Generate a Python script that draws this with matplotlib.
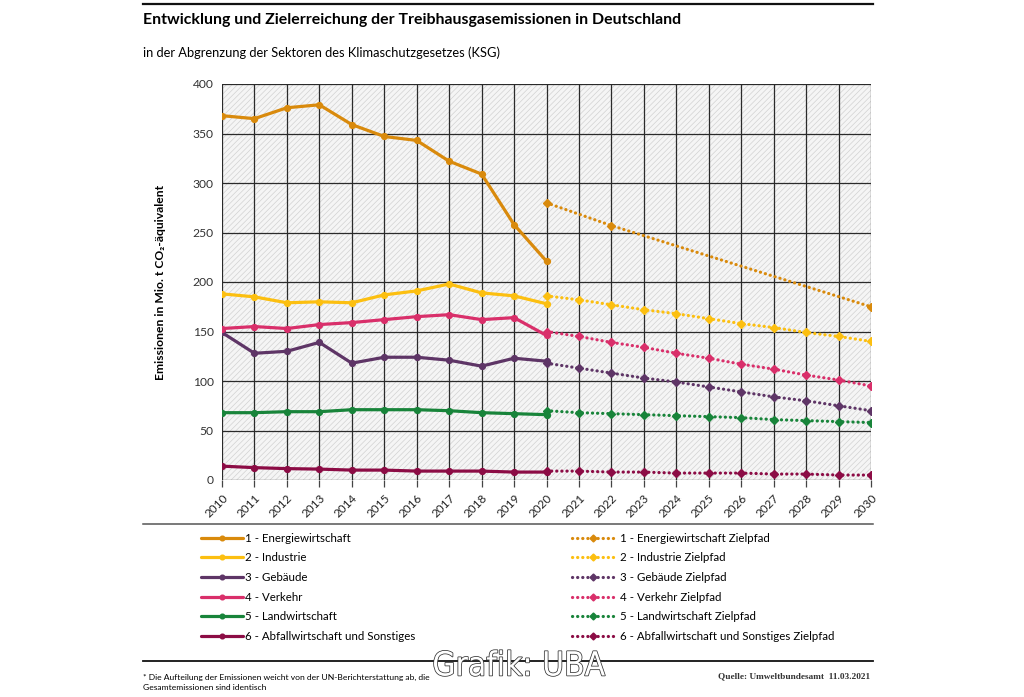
import matplotlib
matplotlib.use('Agg')
import matplotlib.pyplot as plt
import matplotlib.patheffects as pe
from matplotlib.patches import Rectangle
from matplotlib.lines import Line2D

plt.rcParams['font.family'] = ['Lato', 'DejaVu Sans']
plt.rcParams['hatch.linewidth'] = 0.5

# data (Mio. t CO2-Aequivalent)
jahre_ist = list(range(2010, 2021))
jahre_ziel = list(range(2020, 2031))
energie_ziel_jahre = [2020, 2022, 2030]

energie_ist = [368, 365, 376, 379, 359, 347, 343, 322, 309, 258, 221]
industrie_ist = [188, 185, 179, 180, 179, 187, 191, 198, 189, 186, 178]
gebaeude_ist = [149, 128, 130, 139, 118, 124, 124, 121, 115, 123, 120]
verkehr_ist = [153, 155, 153, 157, 159, 162, 165, 167, 162, 164, 146]
landwirtschaft_ist = [68, 68, 69, 69, 71, 71, 71, 70, 68, 67, 66]
abfall_ist = [14, 12.5, 11.5, 11, 10, 10, 9, 9, 9, 8, 8]

energie_ziel = [280, 257, 175]
industrie_ziel = [186, 182, 177, 172, 168, 163, 158, 154, 149, 145, 140]
gebaeude_ziel = [118, 113, 108, 103, 99, 94, 89, 84, 80, 75, 70]
verkehr_ziel = [150, 145, 139, 134, 128, 123, 117, 112, 106, 101, 95]
landwirtschaft_ziel = [70, 68, 67, 66, 65, 64, 63, 61, 60, 59, 58]
abfall_ziel = [9, 9, 8, 8, 7, 7, 7, 6, 6, 5, 5]

sektoren = ['1 - Energiewirtschaft', '2 - Industrie', '3 - Gebäude',
            '4 - Verkehr', '5 - Landwirtschaft', '6 - Abfallwirtschaft und Sonstiges']
farben = ['#d98a0c', '#fcbf10', '#5e3566', '#d92f6a', '#18843a', '#8c0c45']

ist = [energie_ist, industrie_ist, gebaeude_ist, verkehr_ist, landwirtschaft_ist, abfall_ist]
ziel = [energie_ziel, industrie_ziel, gebaeude_ziel, verkehr_ziel, landwirtschaft_ziel, abfall_ziel]
ziel_x = [energie_ziel_jahre] + [jahre_ziel] * 5

fig = plt.figure(figsize=(10.24, 6.97), dpi=100)
ax = fig.add_axes([222/1024, 1-480/697, (871-222)/1024, (480-84)/697])

# hatched background
bg = Rectangle((0, 0), 1, 1, transform=ax.transAxes, facecolor='#f5f5f5',
               edgecolor='#d2d2d2', hatch='//////', lw=0, zorder=0)
ax.add_patch(bg)

handles_ist, handles_ziel = [], []
for i in range(6):
    h1, = ax.plot(jahre_ist, ist[i], color=farben[i], lw=2.3, marker='o', ms=4.2,
                  solid_capstyle='round', zorder=4)
    h2, = ax.plot(ziel_x[i], ziel[i], color=farben[i], lw=2.3, ls=(0, (0.05, 1.55)),
                  dash_capstyle='round', marker='D', ms=4.4, zorder=3)
    handles_ist.append(h1)
    handles_ziel.append(h2)

ax.set_xlim(2010, 2030)
ax.set_ylim(0, 400)
ax.set_yticks(range(0, 401, 50))
ax.set_xticks(range(2010, 2031))
ax.set_xticklabels([str(j) for j in range(2010, 2031)], rotation=45, ha='right',
                   rotation_mode='anchor', fontsize=8.5, color='#222')
ax.tick_params(axis='y', length=0, labelsize=8.7, labelcolor='#333', pad=6)
ax.tick_params(axis='x', length=5, width=0.9, color='#444', pad=4)
ax.grid(True, color='#2a2a2a', lw=0.9, zorder=1)
ax.set_axisbelow(True)
for s in ax.spines.values():
    s.set_visible(False)

ax.set_ylabel('Emissionen in Mio. t CO₂-äquivalent', fontsize=8.7, fontweight='bold',
              labelpad=19)

# titles
fig.text(143/1024, 1-20/697, 'Entwicklung und Zielerreichung der Treibhausgasemissionen in Deutschland',
         fontsize=11.4, fontweight='bold', va='center', ha='left')
fig.text(143/1024, 1-53/697, 'in der Abgrenzung der Sektoren des Klimaschutzgesetzes (KSG)',
         fontsize=9.3, va='center', ha='left')

# rules
for yy, lw, c in [(4, 1.6, '#111'), (524, 1.1, '#555'), (661, 1.3, '#111')]:
    fig.add_artist(Line2D([143/1024, 873/1024], [1-yy/697, 1-yy/697], color=c, lw=lw))

# legends
leg1 = fig.legend(handles_ist, sektoren, loc='upper left', bbox_to_anchor=(195/1024, 1-527/697),
                  frameon=False, fontsize=8.3, handlelength=3.7, handletextpad=0.15,
                  labelspacing=0.75, borderpad=0, numpoints=1, markerscale=0.8)
leg2 = fig.legend(handles_ziel, [s + ' Zielpfad' for s in sektoren], loc='upper left',
                  bbox_to_anchor=(566/1024, 1-527/697), frameon=False, fontsize=8.3,
                  handlelength=3.7, handletextpad=0.45, labelspacing=0.75, borderpad=0,
                  numpoints=1, markerscale=0.8)

# footer
fig.text(143/1024, 1-677/697, '* Die Aufteilung der Emissionen weicht von der UN-Berichterstattung ab, die',
         fontsize=6.1, va='center', ha='left')
fig.text(143/1024, 1-688/697, 'Gesamtemissionen sind identisch', fontsize=6.1, va='center', ha='left')
fig.text(870/1024, 1-676/697, 'Quelle: Umweltbundesamt  11.03.2021', fontsize=6.7,
         family='Liberation Serif', fontweight='bold', color='#333', va='center', ha='right')
fig.text(519/1024, 1-666/697, 'Grafik: UBA', fontsize=24, color='white', va='center', ha='center',
         family='DejaVu Sans', fontstretch='condensed',
         path_effects=[pe.Stroke(linewidth=1.1, foreground='#333'), pe.Normal()])

fig.savefig('out.png', dpi=100)
